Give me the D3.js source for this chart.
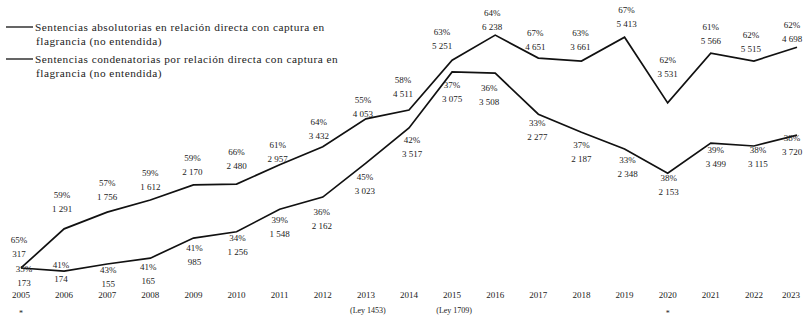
<!DOCTYPE html>
<html>
<head>
<meta charset="utf-8">
<script src="https://cdn.jsdelivr.net/npm/d3@7"></script>
<style>
  body { margin: 0; background: #fff; }
  text { font-family: "Liberation Serif", "DejaVu Serif", serif; fill: #222; }
</style>
</head>
<body>
<script>
// data
var years = ["2005", "2006", "2007", "2008", "2009", "2010", "2011", "2012", "2013", "2014",
             "2015", "2016", "2017", "2018", "2019", "2020", "2021", "2022", "2023"];

// upper line - sentencias absolutorias
var absolutorias = [335, 1270, 1670, 1960, 2320, 2340, 2800, 3230, 3900, 4110,
                    5300, 5900, 5350, 5280, 5850, 4280, 5470, 5280, 5610];
var absPct = ["65%", "59%", "57%", "59%", "59%", "66%", "61%", "64%", "55%", "58%",
              "63%", "64%", "67%", "63%", "67%", "62%", "61%", "62%", "62%"];
var absCount = ["317", "1 291", "1 756", "1 612", "2 170", "2 480", "2 957", "3 432", "4 053", "4 511",
                "5 251", "6 238", "4 651", "3 661", "5 413", "3 531", "5 566", "5 515", "4 698"];

// lower line - sentencias condenatorias
var condenatorias = [335, 260, 430, 570, 1050, 1200, 1740, 2030, 2840, 3680,
                     5020, 4990, 4010, 3580, 3180, 2600, 3320, 3250, 3510];
var conPct = ["35%", "41%", "43%", "41%", "41%", "34%", "39%", "36%", "45%", "42%",
              "37%", "36%", "33%", "37%", "33%", "38%", "39%", "38%", "38%"];
var conCount = ["173", "174", "155", "165", "985", "1 256", "1 548", "2 162", "3 023", "3 517",
                "3 075", "3 508", "2 277", "2 187", "2 348", "2 153", "3 499", "3 115", "3 720"];

var legendLabels = [
  ["Sentencias absolutorias en relación directa con captura en", "flagrancia (no entendida)"],
  ["Sentencias condenatorias por relación directa con captura en", "flagrancia (no entendida)"]
];
var notes = ["(Ley 1453)", "(Ley 1709)"];
var noteYears = ["2013", "2015"];
var marks = ["*", "*"];
var markYears = ["2005", "2020"];

// label offsets (layout only)
var absDy = [-28, -34, -29, -27, -27, -32, -20, -25, -19, -30, -28, -22, -25, -28, -27, -43, -26, -26, -22];
var absDx = [-2, -2, 0, 0, -1, 0, -2, -4, -3, -6, -10, -3, -3, -1, 2, 0, 0, -3, -5];
var conDy = [1, -6, 6, 9, 10, 6, 11, 15, 14, 12, 13, 15, 9, 13, 11, 5, 7, 4, 3];
var conDx = [3, -3, 1, -2, 1, 1, 0, -1, -1, 3, 0, -6, -1, 0, 3, 1, 5, 4, -5];

var width = 804, height = 320;

var svg = d3.select("body").append("svg")
    .attr("width", width)
    .attr("height", height);

var x = d3.scalePoint()
    .domain(years)
    .range([21, 797]);

var y = d3.scaleLinear()
    .domain([0, 6500])
    .range([282, 10]);

var line = d3.line()
    .x(function (d, i) { return x(years[i]); })
    .y(function (d) { return y(d); });

svg.append("path")
    .datum(absolutorias)
    .attr("d", line)
    .attr("fill", "none")
    .attr("stroke", "#111")
    .attr("stroke-width", 1.7);

svg.append("path")
    .datum(condenatorias)
    .attr("d", line)
    .attr("fill", "none")
    .attr("stroke", "#111")
    .attr("stroke-width", 1.7);

// value labels
function drawLabels(values, pct, count, dx, dy) {
    var g = svg.append("g").attr("font-size", 9);
    g.selectAll("text.pct")
        .data(values)
        .enter()
        .append("text")
        .attr("class", "pct")
        .attr("text-anchor", "middle")
        .attr("x", function (d, i) { return x(years[i]) + dx[i]; })
        .attr("y", function (d, i) { return y(d) + dy[i] + 3; })
        .text(function (d, i) { return pct[i]; });
    g.selectAll("text.cnt")
        .data(values)
        .enter()
        .append("text")
        .attr("class", "cnt")
        .attr("text-anchor", "middle")
        .attr("x", function (d, i) { return x(years[i]) + dx[i]; })
        .attr("y", function (d, i) { return y(d) + dy[i] + 17; })
        .text(function (d, i) { return count[i]; });
}

drawLabels(absolutorias, absPct, absCount, absDx, absDy);
drawLabels(condenatorias, conPct, conCount, conDx, conDy);

// x axis labels (no axis line in the original)
svg.append("g")
    .attr("font-size", 9)
    .selectAll("text")
    .data(years)
    .enter()
    .append("text")
    .attr("text-anchor", "middle")
    .attr("x", function (d, i) { return x(d) + (i == years.length - 1 ? -6 : 0); })
    .attr("y", 298)
    .text(function (d) { return d; });

// notes under the axis
svg.append("g")
    .attr("font-size", 8)
    .selectAll("text")
    .data(notes)
    .enter()
    .append("text")
    .attr("text-anchor", "middle")
    .attr("x", function (d, i) { return x(noteYears[i]) + 2; })
    .attr("y", 313)
    .text(function (d) { return d; });

svg.append("g")
    .attr("font-size", 8)
    .selectAll("text")
    .data(marks)
    .enter()
    .append("text")
    .attr("text-anchor", "middle")
    .attr("x", function (d, i) { return x(markYears[i]); })
    .attr("y", 316)
    .text(function (d) { return d; });

// legend
var legend = svg.append("g")
    .attr("font-size", 11.3)
    .attr("letter-spacing", 0.5);
legendLabels.forEach(function (lines, i) {
    var ly = 27 + i * 32;
    legend.append("line")
        .attr("x1", 6).attr("x2", 33)
        .attr("y1", ly).attr("y2", ly)
        .attr("stroke", "#111")
        .attr("stroke-width", 1.3);
    lines.forEach(function (t, j) {
        legend.append("text")
            .attr("x", j == 0 ? 35 : 36)
            .attr("y", ly + 4 + j * 14)
            .text(t);
    });
});
</script>
</body>
</html>
